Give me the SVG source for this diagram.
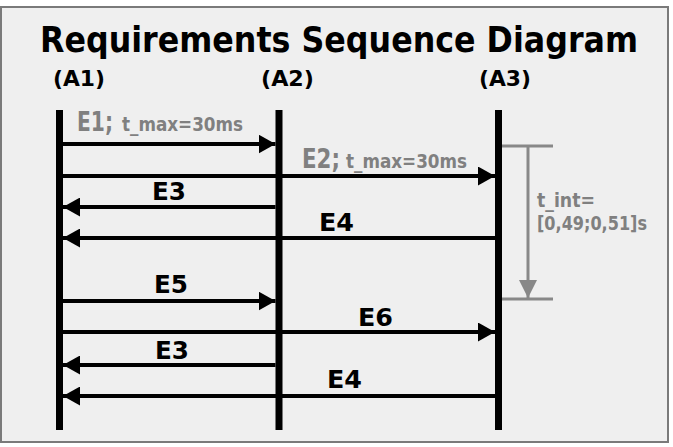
<svg xmlns="http://www.w3.org/2000/svg" width="673" height="447" viewBox="0 0 673 447">
<defs>
<style>
.t{font-family:"DejaVu Sans Condensed","DejaVu Sans","Liberation Sans",sans-serif;font-stretch:condensed;font-weight:bold;}
.b{fill:#000;}
.g{fill:#808080;}
.life{stroke:#000;stroke-width:7;fill:none;}
.msg{stroke:#000;stroke-width:4;fill:none;}
.dim{stroke:#888;stroke-width:3;fill:none;}
</style>
<marker id="ah" viewBox="0 0 17 19" refX="17" refY="9.5" markerWidth="17" markerHeight="19" markerUnits="userSpaceOnUse" orient="auto">
<path d="M0,0 L17,9.5 L0,19 Z" fill="#000"/>
</marker>
<marker id="ahg" viewBox="0 0 18 18" refX="18" refY="9" markerWidth="18" markerHeight="18" markerUnits="userSpaceOnUse" orient="auto">
<path d="M0,0 L18,9 L0,18 Z" fill="#888"/>
</marker>
</defs>
<rect x="0" y="0" width="673" height="447" fill="#fff"/>
<rect x="1" y="7" width="667" height="435" fill="#efefef" stroke="#7a7a7a" stroke-width="2"/>
<text class="t b" x="40" y="52" font-size="35" textLength="598" lengthAdjust="spacingAndGlyphs">Requirements Sequence Diagram</text>

<g id="A1">
<text class="t b" x="53" y="86" font-size="22" textLength="52" lengthAdjust="spacingAndGlyphs">(A1)</text>
<line class="life" x1="59.5" y1="110" x2="59.5" y2="430"/>
</g>
<g id="A2">
<text class="t b" x="261" y="86" font-size="22" textLength="53" lengthAdjust="spacingAndGlyphs">(A2)</text>
<line class="life" x1="279" y1="110" x2="279" y2="430"/>
</g>
<g id="A3">
<text class="t b" x="479" y="86" font-size="22" textLength="52" lengthAdjust="spacingAndGlyphs">(A3)</text>
<line class="life" x1="498.5" y1="110" x2="498.5" y2="430"/>
</g>

<g id="connectors">
<line class="msg" x1="63" y1="144" x2="275.5" y2="144" marker-end="url(#ah)"/>
<line class="msg" x1="63" y1="176" x2="495" y2="176" marker-end="url(#ah)"/>
<line class="msg" x1="275.5" y1="207" x2="63" y2="207" marker-end="url(#ah)"/>
<line class="msg" x1="495" y1="238" x2="63" y2="238" marker-end="url(#ah)"/>
<line class="msg" x1="63" y1="301" x2="275.5" y2="301" marker-end="url(#ah)"/>
<line class="msg" x1="63" y1="332" x2="495" y2="332" marker-end="url(#ah)"/>
<line class="msg" x1="275.5" y1="365" x2="63" y2="365" marker-end="url(#ah)"/>
<line class="msg" x1="495" y1="396" x2="63" y2="396" marker-end="url(#ah)"/>
</g>

<g id="labels">
<text class="t g" x="77" y="131" font-size="26" textLength="36" lengthAdjust="spacingAndGlyphs">E1;</text>
<text class="t g" x="122" y="131" font-size="19" textLength="121" lengthAdjust="spacingAndGlyphs">t_max=30ms</text>
<text class="t g" x="302" y="168" font-size="26" textLength="38" lengthAdjust="spacingAndGlyphs">E2;</text>
<text class="t g" x="346" y="168" font-size="19" textLength="121" lengthAdjust="spacingAndGlyphs">t_max=30ms</text>
<text class="t b" x="152" y="200" font-size="24" textLength="34" lengthAdjust="spacingAndGlyphs">E3</text>
<text class="t b" x="319" y="231" font-size="24" textLength="35" lengthAdjust="spacingAndGlyphs">E4</text>
<text class="t b" x="154" y="293" font-size="24" textLength="34" lengthAdjust="spacingAndGlyphs">E5</text>
<text class="t b" x="358" y="326" font-size="24" textLength="35" lengthAdjust="spacingAndGlyphs">E6</text>
<text class="t b" x="155" y="359" font-size="24" textLength="34" lengthAdjust="spacingAndGlyphs">E3</text>
<text class="t b" x="327" y="388" font-size="24" textLength="35" lengthAdjust="spacingAndGlyphs">E4</text>
</g>

<g id="t_int">
<line class="dim" x1="502" y1="146" x2="553" y2="146"/>
<line class="dim" x1="502" y1="299" x2="553" y2="299"/>
<line class="dim" x1="528" y1="146" x2="528" y2="298" marker-end="url(#ahg)"/>
<text class="t g" x="537" y="207" font-size="19" textLength="58" lengthAdjust="spacingAndGlyphs">t_int=</text>
<text class="t g" x="537" y="230" font-size="19" textLength="110" lengthAdjust="spacingAndGlyphs">[0,49;0,51]s</text>
</g>
</svg>
